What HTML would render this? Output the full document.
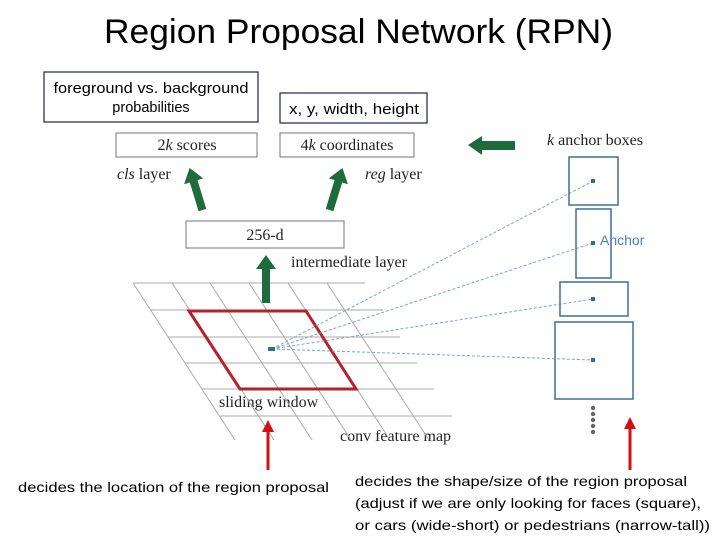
<!DOCTYPE html>
<html><head><meta charset="utf-8"><style>
html,body{margin:0;padding:0;background:#fff;}
svg{display:block;}
</style></head><body>
<svg width="720" height="540" viewBox="0 0 720 540" xmlns="http://www.w3.org/2000/svg">
<text x="104" y="43" font-family="Liberation Sans, sans-serif" font-size="34" textLength="509" lengthAdjust="spacingAndGlyphs" fill="#000">Region Proposal Network (RPN)</text>

<rect x="44" y="72" width="214" height="50" fill="#fff" stroke="#1f1f5f" stroke-width="1.2"/>
<text x="151" y="93" text-anchor="middle" font-family="Liberation Sans, sans-serif" font-size="14.5" textLength="195" lengthAdjust="spacingAndGlyphs">foreground vs. background</text>
<text x="151" y="112" text-anchor="middle" font-family="Liberation Sans, sans-serif" font-size="14.5">probabilities</text>
<rect x="280" y="93" width="147" height="30" fill="#fff" stroke="#1f1f5f" stroke-width="1.2"/>
<text x="354" y="114" text-anchor="middle" font-family="Liberation Sans, sans-serif" font-size="14.5" textLength="130" lengthAdjust="spacingAndGlyphs">x, y, width, height</text>

<g font-family="Liberation Serif, serif" font-size="16" fill="#222">
<rect x="116" y="133" width="141" height="24" fill="#fff" stroke="#777"/>
<text x="187" y="150" text-anchor="middle"><tspan>2</tspan><tspan font-style="italic">k</tspan> scores</text>
<rect x="280" y="133" width="134" height="24" fill="#fff" stroke="#777"/>
<text x="347" y="150" text-anchor="middle"><tspan>4</tspan><tspan font-style="italic">k</tspan> coordinates</text>
<text x="117" y="179"><tspan font-style="italic">cls</tspan> layer</text>
<text x="365" y="179"><tspan font-style="italic">reg</tspan> layer</text>
<rect x="186" y="221" width="158" height="27" fill="#fff" stroke="#777"/>
<text x="265" y="240" text-anchor="middle">256-d</text>
<text x="291" y="267">intermediate layer</text>
<text x="219" y="407">sliding window</text>
<text x="340" y="441">conv feature map</text>
<text x="547" y="145"><tspan font-style="italic">k</tspan> anchor boxes</text>
</g>

<!-- grid -->
<g stroke="#aaa" stroke-width="1">
<line x1="133" y1="283" x2="365" y2="283"/>
<line x1="151" y1="310" x2="383" y2="310"/>
<line x1="168" y1="337" x2="400" y2="337"/>
<line x1="185" y1="363" x2="417" y2="363"/>
<line x1="202" y1="389" x2="434" y2="389"/>
<line x1="220" y1="416" x2="452" y2="416"/>
<line x1="133" y1="283" x2="235" y2="440"/>
<line x1="172" y1="283" x2="274" y2="440"/>
<line x1="210" y1="283" x2="312" y2="440"/>
<line x1="249" y1="283" x2="351" y2="440"/>
<line x1="288" y1="283" x2="390" y2="440"/>
<line x1="327" y1="283" x2="429" y2="440"/>
</g>
<polygon points="189,311 306,311 356,389 240,389" fill="none" stroke="#b5222b" stroke-width="3"/>

<!-- dashed lines -->
<g stroke="#7aa6c9" stroke-width="1" stroke-dasharray="3,2">
<line x1="272" y1="349" x2="593" y2="181"/>
<line x1="272" y1="349" x2="593" y2="243"/>
<line x1="272" y1="349" x2="593" y2="299"/>
<line x1="272" y1="349" x2="593" y2="360"/>
</g>
<rect x="268" y="347" width="7" height="4" fill="#2e6ca4"/>

<!-- anchor boxes -->
<g fill="none" stroke="#3d6f9c" stroke-width="1.5">
<rect x="569" y="157" width="49" height="48"/>
<rect x="576" y="209" width="35" height="69"/>
<rect x="560" y="282" width="68" height="34"/>
<rect x="555" y="322" width="78" height="77"/>
</g>
<g fill="#2e6ca4">
<rect x="591" y="179" width="4" height="4"/>
<rect x="591" y="241" width="4" height="4"/>
<rect x="591" y="297" width="4" height="4"/>
<rect x="591" y="358" width="4" height="4"/>
</g>
<text x="600" y="245" font-family="Liberation Sans, sans-serif" font-size="14" fill="#4a7fc8">Anchor</text>
<g fill="#666">
<circle cx="593" cy="408" r="2.2"/><circle cx="593" cy="414" r="2.2"/><circle cx="593" cy="420" r="2.2"/><circle cx="593" cy="426" r="2.2"/><circle cx="593" cy="432" r="2.2"/>
</g>

<!-- green arrows -->
<g fill="#1e6b3c">
<polygon points="0,-22 10,-8 4,-8 4,22 -4,22 -4,-8 -10,-8" transform="translate(196,189) rotate(-17)"/>
<polygon points="0,-22 10,-8 4,-8 4,22 -4,22 -4,-8 -10,-8" transform="translate(336,189) rotate(17)"/>
<polygon points="0,-24 10,-10 4,-10 4,24 -4,24 -4,-10 -10,-10" transform="translate(266,279)"/>
<polygon points="468,145 482,136 482,141 515,141 515,150 482,150 482,155"/>
</g>

<!-- red arrows -->
<g fill="#d21010">
<rect x="266.5" y="430" width="3" height="40"/>
<polygon points="268,420 274,432 262,432"/>
<rect x="628.5" y="427" width="3" height="43"/>
<polygon points="630,417 636,429 624,429"/>
</g>

<g font-family="Liberation Sans, sans-serif" font-size="14" fill="#000">
<text x="18" y="492" textLength="311" lengthAdjust="spacingAndGlyphs">decides the location of the region proposal</text>
<text x="355" y="486" textLength="332" lengthAdjust="spacingAndGlyphs">decides the shape/size of the region proposal</text>
<text x="355" y="508" textLength="346" lengthAdjust="spacingAndGlyphs">(adjust if we are only looking for faces (square),</text>
<text x="355" y="530" textLength="355" lengthAdjust="spacingAndGlyphs">or cars (wide-short) or pedestrians (narrow-tall))</text>
</g>
</svg>
</body></html>
